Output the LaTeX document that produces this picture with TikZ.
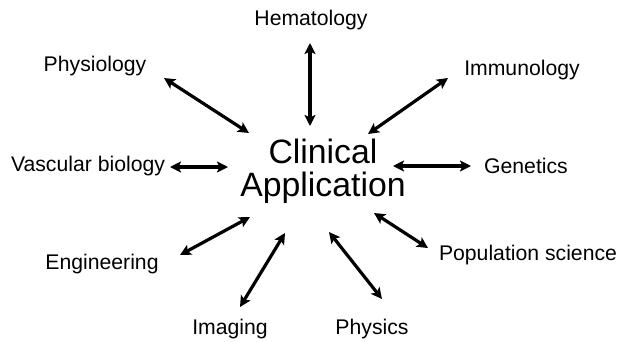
\documentclass[tikz,border=0pt]{standalone}
\usepackage{fontspec}
\setmainfont{Liberation Sans}
\usetikzlibrary{arrows.meta}
\begin{document}
\begin{tikzpicture}[x=1pt,y=-1pt,
  lbl/.style={inner sep=0pt,font=\fontsize{21.2}{25}\selectfont},
  link/.style={line width=3.2pt,{Stealth[length=11pt,width=11pt,inset=2.5pt]}-{Stealth[length=11pt,width=11pt,inset=2.5pt]}}]
\useasboundingbox[fill=white] (0,0) rectangle (620,341);
\node[inner sep=0pt,align=center,font=\fontsize{33.8}{33}\selectfont] (c) at (323,171) {Clinical\\Application};
\node[lbl] (hem) at (311,20) {Hematology};
\node[lbl] (phy) at (95,66) {Physiology};
\node[lbl] (imm) at (522,70) {Immunology};
\node[lbl] (vas) at (88,166) {Vascular biology};
\node[lbl] (gen) at (526,166) {Genetics};
\node[lbl] (eng) at (102,264) {Engineering};
\node[lbl] (pop) at (528,255) {Population science};
\node[lbl] (ima) at (230,329) {Imaging};
\node[lbl] (phs) at (372,329) {Physics};
\coordinate (a1) at (164,78);  \coordinate (b1) at (249,133);
\coordinate (a2) at (170,167); \coordinate (b2) at (228,167);
\coordinate (a3) at (180,255); \coordinate (b3) at (250,217);
\coordinate (a4) at (240,307); \coordinate (b4) at (285,233);
\coordinate (a5) at (382,299); \coordinate (b5) at (329,232);
\coordinate (a6) at (428,248); \coordinate (b6) at (374,213);
\coordinate (a7) at (448,78);  \coordinate (b7) at (368,134);
\coordinate (a8) at (471,166); \coordinate (b8) at (393,166);
\coordinate (a9) at (310,43);  \coordinate (b9) at (310,126);
\foreach \i in {1,...,9} \draw[link] (a\i) -- (b\i);
\end{tikzpicture}
\end{document}
